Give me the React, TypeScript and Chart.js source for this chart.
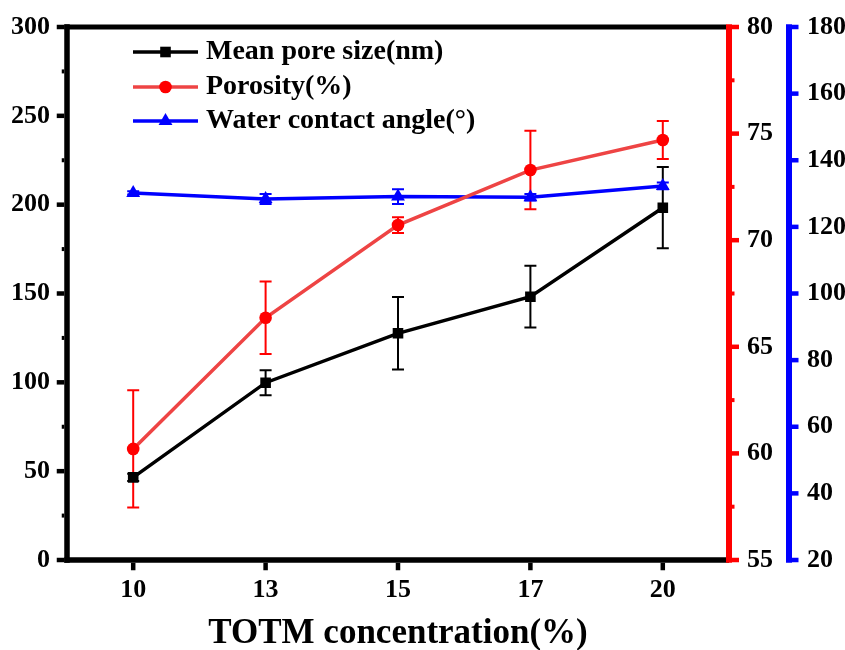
import React, { useEffect, useRef } from 'react';
import { Chart, registerables } from 'chart.js';

Chart.register(...registerables);

const categories = ['10', '13', '15', '17', '20'];
const poreSize = [46.5, 99.8, 127.6, 148.2, 198.3];
const poreSizeErr = [2, 7, 20.4, 17.4, 22.9];
const porosity = [60.21, 66.36, 70.71, 73.29, 74.7];
const porosityErr = [2.75, 1.7, 0.37, 1.84, 0.89];
const contactAngle = [130.2, 128.4, 129.1, 128.9, 132.3];
const contactAngleErr = [0.5, 1.5, 2.2, 1, 1];

const seriesLabels = ['Mean pore size(nm)', 'Porosity(%)', 'Water contact angle(°)'];
const xTitle = 'TOTM concentration(%)';

const FONT = "'Liberation Serif', 'Times New Roman', serif";
const errors = [poreSizeErr, porosityErr, contactAngleErr];
const errColors = ['#000000', '#ff0000', '#0000ff'];
const markerColors = ['#000000', '#ff0000', '#0000ff'];

function drawMarker(ctx: CanvasRenderingContext2D, style: string, x: number, y: number, color: string) {
  ctx.save();
  ctx.fillStyle = color;
  ctx.beginPath();
  if (style === 'rect') {
    ctx.rect(x - 5.3, y - 5.3, 10.6, 10.6);
  } else if (style === 'circle') {
    ctx.arc(x, y, 6.3, 0, Math.PI * 2);
  } else {
    const r = 8;
    ctx.moveTo(x, y - r);
    ctx.lineTo(x + r * 0.866, y + r * 0.5);
    ctx.lineTo(x - r * 0.866, y + r * 0.5);
    ctx.closePath();
  }
  ctx.fill();
  ctx.restore();
}

const customPlugin = {
  id: 'customFrame',
  beforeDatasetsDraw(chart: any) {
    const ctx: CanvasRenderingContext2D = chart.ctx;
    const xScale = chart.scales.x;
    chart.data.datasets.forEach((ds: any, di: number) => {
      const yScale = chart.scales[ds.yAxisID];
      const errs = errors[di];
      ctx.save();
      ctx.strokeStyle = errColors[di];
      ctx.lineWidth = 2;
      ds.data.forEach((v: number, i: number) => {
        const x = xScale.getPixelForValue(i);
        const yt = yScale.getPixelForValue(v + errs[i]);
        const yb = yScale.getPixelForValue(v - errs[i]);
        ctx.beginPath();
        ctx.moveTo(x, yt);
        ctx.lineTo(x, yb);
        ctx.moveTo(x - 6, yt);
        ctx.lineTo(x + 6, yt);
        ctx.moveTo(x - 6, yb);
        ctx.lineTo(x + 6, yb);
        ctx.stroke();
      });
      ctx.restore();
    });
  },
  afterDraw(chart: any) {
    const ctx: CanvasRenderingContext2D = chart.ctx;
    const { left, right, top, bottom } = chart.chartArea;
    const yL = chart.scales.y;
    const yR = chart.scales.y1;
    const yB = chart.scales.y2;
    const xS = chart.scales.x;
    const W = 5.5;
    const h = W / 2;
    ctx.save();
    ctx.fillStyle = '#000';
    ctx.fillRect(left - h, top - h, W, bottom - top + W);
    ctx.fillRect(left - h, top - 2.5, right - left, 5);
    ctx.fillRect(left - h, bottom - h, right - left + h, W);
    yL.ticks.forEach((t: any) => {
      const p = yL.getPixelForValue(t.value);
      ctx.fillRect(left - h - 7.5, p - 2.25, 7.5, 4.5);
    });
    for (let v = 25; v < 300; v += 50) {
      const p = yL.getPixelForValue(v);
      ctx.fillRect(left - h - 2.5, p - 2, 2.5, 4);
    }
    categories.forEach((_c, i) => {
      const p = xS.getPixelForValue(i);
      ctx.fillRect(p - 2.25, bottom + h, 4.5, 7.5);
    });
    ctx.fillStyle = '#ff0000';
    ctx.fillRect(yR.left - 3, top - h, 6, bottom - top + W);
    yR.ticks.forEach((t: any) => {
      const p = yR.getPixelForValue(t.value);
      ctx.fillRect(yR.left + 3, p - 2.25, 7, 4.5);
    });
    for (let v = 57.5; v < 80; v += 5) {
      const p = yR.getPixelForValue(v);
      ctx.fillRect(yR.left + 3, p - 2, 2.5, 4);
    }
    ctx.fillStyle = '#0000ff';
    ctx.fillRect(yB.left - 3, top - h, 6, bottom - top + W);
    yB.ticks.forEach((t: any) => {
      const p = yB.getPixelForValue(t.value);
      ctx.fillRect(yB.left + 3, p - 2.25, 6.5, 4.5);
    });
    ctx.restore();

    const styles = ['rect', 'circle', 'triangle'];
    const rows = [52, 87, 121];
    chart.data.datasets.forEach((ds: any, di: number) => {
      const y = rows[di];
      ctx.save();
      ctx.strokeStyle = ds.borderColor;
      ctx.lineWidth = 3.5;
      ctx.beginPath();
      ctx.moveTo(133, y);
      ctx.lineTo(198, y);
      ctx.stroke();
      drawMarker(ctx, styles[di], 165.5, y, markerColors[di]);
      ctx.fillStyle = '#000';
      ctx.font = `bold 28px ${FONT}`;
      ctx.textBaseline = 'middle';
      ctx.textAlign = 'left';
      ctx.fillText(ds.label, 206, y);
      ctx.restore();
    });
  },
};

const noPad = (s: any) => {
  s.paddingTop = 0;
  s.paddingBottom = 0;
  s.paddingLeft = 0;
  s.paddingRight = 0;
};

export default function App() {
  const ref = useRef<HTMLCanvasElement | null>(null);
  useEffect(() => {
    if (!ref.current) return;
    const tickFont = { family: FONT, size: 26, weight: 'bold' as const };
    const chart = new Chart(ref.current, {
      type: 'line',
      data: {
        labels: categories,
        datasets: [
          {
            label: seriesLabels[0],
            data: poreSize,
            yAxisID: 'y',
            borderColor: '#000000',
            backgroundColor: '#000000',
            borderWidth: 3.5,
            pointStyle: 'rect',
            pointRadius: 7.5,
            pointBorderWidth: 0,
            pointBackgroundColor: '#000000',
            tension: 0,
          },
          {
            label: seriesLabels[1],
            data: porosity,
            yAxisID: 'y1',
            borderColor: '#ee4444',
            backgroundColor: '#ff0000',
            borderWidth: 3.5,
            pointStyle: 'circle',
            pointRadius: 6.3,
            pointBorderWidth: 0,
            pointBackgroundColor: '#ff0000',
            tension: 0,
          },
          {
            label: seriesLabels[2],
            data: contactAngle,
            yAxisID: 'y2',
            borderColor: '#0000ff',
            backgroundColor: '#0000ff',
            borderWidth: 3.5,
            pointStyle: 'triangle',
            pointRadius: 8,
            pointBorderWidth: 0,
            pointBackgroundColor: '#0000ff',
            tension: 0,
          },
        ],
      },
      options: {
        responsive: false,
        animation: false,
        layout: { padding: { top: 27, left: 0, right: 0, bottom: 0 } },
        plugins: { legend: { display: false }, tooltip: { enabled: false } },
        scales: {
          x: {
            type: 'category',
            offset: true,
            grid: { display: false, drawTicks: false },
            border: { display: false },
            ticks: { font: tickFont, color: '#000', padding: 15 },
            title: {
              display: true,
              text: xTitle,
              font: { family: FONT, size: 35, weight: 'bold', lineHeight: 0.9 },
              color: '#000',
              padding: { top: 0, bottom: 0 },
            },
            afterFit: (s: any) => { s.height = 90; noPad(s); },
          },
          y: {
            position: 'left',
            min: 0,
            max: 300,
            ticks: { stepSize: 50, font: tickFont, color: '#000', padding: 17 },
            grid: { display: false, drawTicks: false },
            border: { display: false },
            afterFit: (s: any) => { s.width = 67; noPad(s); },
          },
          y1: {
            position: 'right',
            weight: 0,
            min: 55,
            max: 80,
            ticks: { stepSize: 5, font: tickFont, color: '#000', padding: 18 },
            grid: { display: false, drawTicks: false },
            border: { display: false },
            afterFit: (s: any) => { s.width = 60; noPad(s); },
          },
          y2: {
            position: 'right',
            weight: 1,
            min: 20,
            max: 180,
            ticks: { stepSize: 20, font: tickFont, color: '#000', padding: 18 },
            grid: { display: false, drawTicks: false },
            border: { display: false },
            afterFit: (s: any) => { s.width = 56; noPad(s); },
          },
        },
      } as any,
      plugins: [customPlugin],
    });
    return () => chart.destroy();
  }, []);
  return (
    <div style={{ position: 'absolute', left: 0, top: 0, width: 845, height: 650, background: '#fff' }}>
      <canvas ref={ref} width={845} height={650} style={{ width: 845, height: 650, display: 'block' }} />
    </div>
  );
}
